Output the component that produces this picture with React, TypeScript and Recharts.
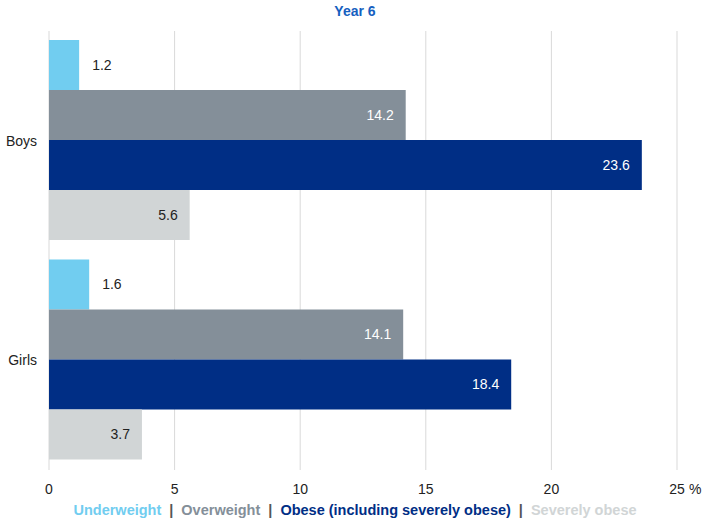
import { BarChart, Bar, XAxis, YAxis, CartesianGrid, LabelList } from 'recharts'

const groups = ['Boys', 'Girls']
const underweight = [1.2, 1.6]
const overweight = [14.2, 14.1]
const obese = [23.6, 18.4]
const severelyObese = [5.6, 3.7]
const xTicks = [0, 5, 10, 15, 20, 25]

const series = [
  { key: 'underweight', name: 'Underweight', color: '#71CDF0' },
  { key: 'overweight', name: 'Overweight', color: '#848F99' },
  { key: 'obese', name: 'Obese (including severely obese)', color: '#002E85' },
  { key: 'severelyObese', name: 'Severely obese', color: '#D1D5D6' },
]

const data = groups.map((g, i) => ({
  group: g,
  underweight: underweight[i],
  overweight: overweight[i],
  obese: obese[i],
  severelyObese: severelyObese[i],
}))

const font = '"Liberation Sans", Arial, sans-serif'
const fmt = (v: any) => Number(v).toFixed(1)

// x ticks: the last one carries the unit
const XTick = (props: any) => {
  const { x, y, payload } = props
  return (
    <g>
      <text x={x} y={y} dy={16} textAnchor="middle" fontSize={14} fill="#222" fontFamily={font}>
        {payload.value}
      </text>
      {payload.value === 25 && (
        <text x={x + 12} y={y} dy={16} textAnchor="start" fontSize={14} fill="#222" fontFamily={font}>
          %
        </text>
      )}
    </g>
  )
}

const App = () => {
  return (
    <div style={{ position: 'absolute', left: 0, top: 0, width: 710, height: 532, background: '#fff', fontFamily: font }}>
      <div style={{ position: 'absolute', top: 3, left: 0, width: 710, textAlign: 'center', fontSize: 14, fontWeight: 'bold', color: '#1560C0' }}>
        Year 6
      </div>
      <BarChart
        width={710}
        height={532}
        data={data}
        layout="vertical"
        margin={{ top: 31, right: 33, bottom: 32, left: 0 }}
        barCategoryGap={9}
        barGap={0}
      >
        <CartesianGrid horizontal={false} stroke="#D9D9D9" />
        <XAxis
          type="number"
          domain={[0, 25]}
          ticks={xTicks}
          axisLine={false}
          tickLine={false}
          tickSize={0}
          tickMargin={8}
          height={30}
          tick={<XTick />}
          interval={0}
        />
        <YAxis
          type="category"
          dataKey="group"
          width={49}
          axisLine={false}
          tickLine={false}
          tickSize={0}
          tickMargin={12}
          tick={{ fontSize: 14, fill: '#222', fontFamily: font }}
        />
        <Bar dataKey="underweight" fill={series[0].color} isAnimationActive={false}>
          <LabelList dataKey="underweight" position="right" offset={13} formatter={fmt} fill="#222" fontSize={14} fontFamily={font} />
        </Bar>
        <Bar dataKey="overweight" fill={series[1].color} isAnimationActive={false}>
          <LabelList dataKey="overweight" position="insideRight" offset={12} formatter={fmt} fill="#fff" fontSize={14} fontFamily={font} />
        </Bar>
        <Bar dataKey="obese" fill={series[2].color} isAnimationActive={false}>
          <LabelList dataKey="obese" position="insideRight" offset={12} formatter={fmt} fill="#fff" fontSize={14} fontFamily={font} />
        </Bar>
        <Bar dataKey="severelyObese" fill={series[3].color} isAnimationActive={false}>
          <LabelList dataKey="severelyObese" position="insideRight" offset={12} formatter={fmt} fill="#222" fontSize={14} fontFamily={font} />
        </Bar>
      </BarChart>
      <div style={{ position: 'absolute', top: 502, left: 0, width: 710, textAlign: 'center', fontSize: 14.5, fontWeight: 'bold' }}>
        {series.map((s, i) => (
          <span key={s.key}>
            {i > 0 && <span style={{ color: '#555', margin: '0 8px' }}>|</span>}
            <span style={{ color: s.color }}>{s.name}</span>
          </span>
        ))}
      </div>
    </div>
  )
}

export default App
